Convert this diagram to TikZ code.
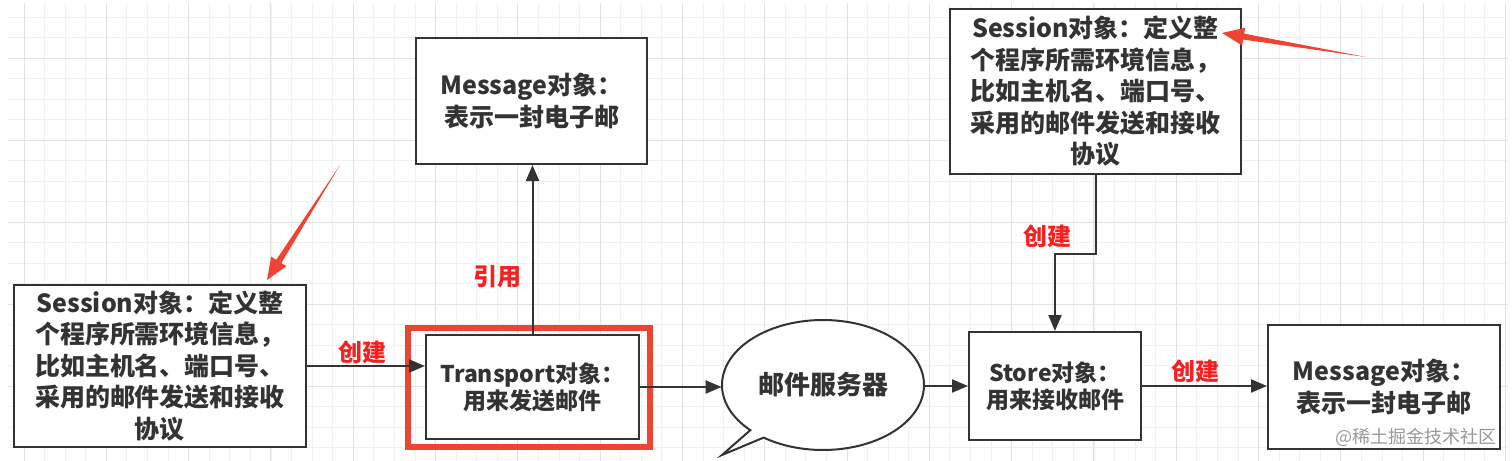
\documentclass[tikz,border=0pt]{standalone}
\usepackage{fontspec}
\setmainfont{Noto Sans CJK SC}
\usepackage{tikz}
\usetikzlibrary{arrows.meta,calc,positioning,shapes.geometric}
\definecolor{ink}{RGB}{51,51,51}
\definecolor{hl}{RGB}{240,68,50}
\definecolor{lab}{RGB}{250,30,30}
\definecolor{gridmaj}{RGB}{226,226,226}
\definecolor{gridmin}{RGB}{241,241,241}
\tikzset{
  obj/.style={rectangle,draw=ink,line width=1pt,fill=white,align=center,
    inner sep=0pt,text=ink,font=\fontsize{12.5}{15.75}\selectfont\bfseries},
  objsmall/.style={obj,font=\fontsize{11.5}{13.5}\selectfont\bfseries},
  % highlight round the Transport object
  hlframe/.style={rectangle,draw=hl,line width=3pt,inner sep=0pt},
  server/.style={ellipse,inner sep=0pt,minimum width=101pt,minimum height=65pt,
    text=ink,font=\fontsize{13}{16}\selectfont\bfseries},
  rel/.style={font=\fontsize{12}{14}\selectfont\bfseries,text=lab},
  arr/.style={-{Triangle[length=8pt,width=6.5pt]},draw=ink,line width=1pt},
  annot/.style={fill=hl},
  wmark/.style={font=\fontsize{9}{10}\selectfont,text=black!40,inner sep=0pt},
  gridmajor/.style={draw=gridmaj,line width=0.5pt},
  gridminor/.style={draw=gridmin,line width=0.4pt}
}

\begin{document}
\begin{tikzpicture}[x=0.5pt,y=-0.5pt]
\useasboundingbox[fill=white] (0,0) rectangle (1512,461);
% ---------------- background grid ----------------
\foreach \i in {0,...,72} \draw[gridminor] ({24+20.575*\i},3) -- ({24+20.575*\i},461);
\foreach \j in {-2,...,19} \draw[gridminor] (8,{58+20.5*\j}) -- (1508,{58+20.5*\j});
\foreach \i in {0,...,18} \draw[gridmajor] ({24+82.3*\i},3) -- ({24+82.3*\i},461);
\foreach \j in {0,...,4} \draw[gridmajor] (8,{58+82*\j}) -- (1508,{58+82*\j});
% ---------------- objects ----------------
\node[obj,minimum width=146pt,minimum height=81pt] (sess1) at (160,366)
  {Session对象：定义整\\个程序所需环境信息，\\比如主机名、端口号、\\采用的邮件发送和接收\\协议};
\node[objsmall,minimum width=106.5pt,minimum height=52pt] (trans) at (532.5,387)
  {Transport对象：\\用来发送邮件};
\node[hlframe,minimum width=121pt,minimum height=59.5pt] (transmark) at (529,387.5) {};
\node[obj,minimum width=115.5pt,minimum height=63pt] (msg1) at (531.5,101)
  {Message对象：\\表示一封电子邮};
\node[obj,minimum width=145.5pt,minimum height=82.5pt] (sess2) at (1095.5,91.5)
  {Session对象：定义整\\个程序所需环境信息，\\比如主机名、端口号、\\采用的邮件发送和接收\\协议};
\node[objsmall,minimum width=86pt,minimum height=54pt] (store) at (1055,386)
  {Store对象：\\用来接收邮件};
\node[obj,minimum width=116pt,minimum height=62pt] (msg2) at (1384,387)
  {Message对象：\\表示一封电子邮};
\node[wmark,anchor=east] (wm) at (1497,437) {@稀土掘金技术社区};
% ---------------- mail server (speech bubble) ----------------
\coordinate (cloudc) at (823,385);
\coordinate (cloudtip) at (722,455);
\draw[ink,line width=1pt,fill=white]
  ([shift={(234:50.5pt and 32.5pt)}]cloudc) -- (cloudtip)
  -- ([shift={(224:50.5pt and 32.5pt)}]cloudc)
  arc[start angle=224,end angle=-126,x radius=50.5pt,y radius=32.5pt] -- cycle;
\node[server] (cloud) at (cloudc) {邮件服务器};
% ---------------- connectors ----------------
\draw[arr] (sess1.east) -- (sess1.east -| trans.west);
\draw[arr] (trans.north) -- (trans.north |- msg1.south);
\draw[arr] (trans.east) -- (trans.east -| cloud.west);
\draw[arr] (cloud.east |- store.west) -- (store.west);
\draw[arr] (sess2.south) -- ++(0,79) -| (store.north);
\draw[arr] (store.east) -- (store.east -| msg2.west);
\node[rel] (lblA) at (362,352) {创建};
\node[rel] (lblB) at (497,277) {引用};
\node[rel] (lblC) at (1047,236) {创建};
\node[rel] (lblD) at (1195,371) {创建};
% ---------------- red pointers ----------------
\coordinate (tailA) at (340,165);  \coordinate (tipA) at (267,280);
\coordinate (baseA) at ($(tipA)!11pt!(tailA)$);
\fill[annot] (tailA) -- ($(baseA)!1.5pt!90:(tipA)$) -- ($(baseA)!4.5pt!90:(tipA)$)
  -- (tipA) -- ($(baseA)!4.5pt!-90:(tipA)$) -- ($(baseA)!1.5pt!-90:(tipA)$) -- cycle;
\coordinate (tailB) at (1366,57);  \coordinate (tipB) at (1222,33);
\coordinate (baseB) at ($(tipB)!11pt!(tailB)$);
\fill[annot] (tailB) -- ($(baseB)!1.5pt!90:(tipB)$) -- ($(baseB)!4.5pt!90:(tipB)$)
  -- (tipB) -- ($(baseB)!4.5pt!-90:(tipB)$) -- ($(baseB)!1.5pt!-90:(tipB)$) -- cycle;
\end{tikzpicture}
\end{document}
